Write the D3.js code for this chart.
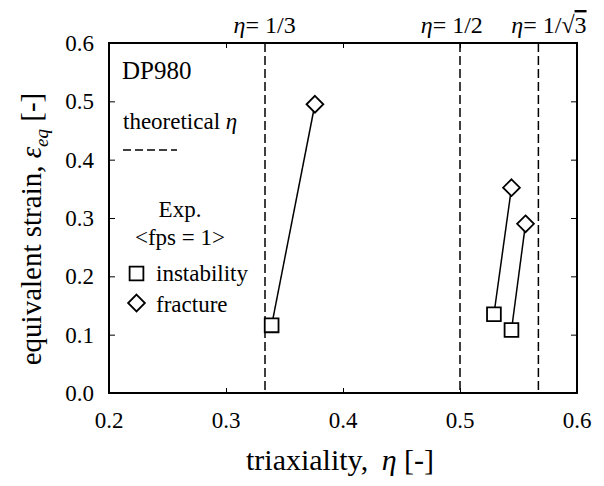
<!DOCTYPE html>
<html lang="en">
  <head>
    <meta charset="utf-8" />
    <script src="https://cdn.jsdelivr.net/npm/d3@7/dist/d3.min.js"></script>
    <style>
      body { margin: 0; background: #fff; }
    </style>
  </head>
  <body>
    <div id="container"></div>
    <script>
      // data
      const xTicks = [0.2, 0.3, 0.4, 0.5, 0.6];
      const yTicks = [0.0, 0.1, 0.2, 0.3, 0.4, 0.5, 0.6];
      const etaLines = [1 / 3, 0.5, 0.567];
      const etaLabelAt = [0.333, 0.493, 0.576];
      const etaLabels = ["1/3", "1/2", "1/\u221A3"];
      const instability = [[0.339, 0.116], [0.529, 0.135], [0.544, 0.108]];
      const fracture = [[0.376, 0.495], [0.544, 0.352], [0.556, 0.290]];

      const width = 604, height = 486;
      const m = { left: 109, right: 577, top: 43, bottom: 393 };

      const svg = d3.select("#container").append("svg")
        .attr("width", width).attr("height", height)
        .attr("font-family", "'Liberation Serif', 'Times New Roman', Times, serif");

      const x = d3.scaleLinear().domain([0.2, 0.6]).range([m.left, m.right]);
      const y = d3.scaleLinear().domain([0, 0.6]).range([m.bottom, m.top]);

      // ticks (inward, all four sides)
      svg.append("g").attr("transform", `translate(0,${m.bottom})`)
        .call(d3.axisBottom(x).tickValues(xTicks.slice(1, -1)).tickSize(-5).tickFormat(""))
        .call(g => g.select(".domain").remove());
      svg.append("g").attr("transform", `translate(0,${m.top})`)
        .call(d3.axisTop(x).tickValues(xTicks.slice(1, -1)).tickSize(-5).tickFormat(""))
        .call(g => g.select(".domain").remove());
      svg.append("g").attr("transform", `translate(${m.left},0)`)
        .call(d3.axisLeft(y).tickValues(yTicks.slice(1, -1)).tickSize(-6).tickFormat(""))
        .call(g => g.select(".domain").remove());
      svg.append("g").attr("transform", `translate(${m.right},0)`)
        .call(d3.axisRight(y).tickValues(yTicks.slice(1, -1)).tickSize(-6).tickFormat(""))
        .call(g => g.select(".domain").remove());
      svg.selectAll(".tick line").attr("stroke", "#000").attr("stroke-width", 1);

      // tick labels
      svg.append("g").selectAll("text").data(xTicks).join("text")
        .attr("x", d => x(d)).attr("y", m.bottom + 35)
        .attr("text-anchor", "middle").attr("font-size", 23)
        .text(d => d.toFixed(1));
      svg.append("g").selectAll("text").data(yTicks).join("text")
        .attr("x", m.left - 15).attr("y", d => y(d) + 8)
        .attr("text-anchor", "end").attr("font-size", 23)
        .text(d => d.toFixed(1));

      // theoretical eta lines
      svg.append("g").selectAll("line").data(etaLines).join("line")
        .attr("x1", d => x(d)).attr("x2", d => x(d))
        .attr("y1", m.top).attr("y2", m.bottom)
        .attr("stroke", "#000").attr("stroke-width", 1.5).attr("stroke-dasharray", "9,4");

      const topLab = svg.append("g").selectAll("text").data(etaLabelAt).join("text")
        .attr("x", d => x(d)).attr("y", 33)
        .attr("text-anchor", "middle").attr("font-size", 24);
      topLab.append("tspan").attr("font-style", "italic").text("\u03B7");
      topLab.append("tspan").text((d, i) => "= " + etaLabels[i].slice(0, -1));
      topLab.append("tspan")
        .attr("text-decoration", (d, i) => etaLabels[i].includes("\u221A") ? "overline" : null)
        .text((d, i) => etaLabels[i].slice(-1));

      // frame
      svg.append("rect").attr("x", m.left).attr("y", m.top)
        .attr("width", m.right - m.left).attr("height", m.bottom - m.top)
        .attr("fill", "none").attr("stroke", "#000").attr("stroke-width", 2);

      // connecting lines
      svg.append("g").selectAll("line").data(instability).join("line")
        .attr("x1", d => x(d[0])).attr("y1", d => y(d[1]))
        .attr("x2", (d, i) => x(fracture[i][0])).attr("y2", (d, i) => y(fracture[i][1]))
        .attr("stroke", "#000").attr("stroke-width", 1.5);

      const sq = d3.symbol().type(d3.symbolSquare).size(190);
      const dia = d3.symbol().type(d3.symbolDiamond2).size(180);

      svg.append("g").selectAll("path").data(instability).join("path")
        .attr("transform", d => `translate(${x(d[0])},${y(d[1])})`)
        .attr("d", sq).attr("fill", "#fff").attr("stroke", "#000").attr("stroke-width", 1.8);
      svg.append("g").selectAll("path").data(fracture).join("path")
        .attr("transform", d => `translate(${x(d[0])},${y(d[1])})`)
        .attr("d", dia).attr("fill", "#fff").attr("stroke", "#000").attr("stroke-width", 1.8);

      // legend
      const lg = svg.append("g").attr("font-size", 23);
      lg.append("text").attr("x", 122).attr("y", 79).attr("font-size", 25).text("DP980");
      const th = lg.append("text").attr("x", 123).attr("y", 129);
      th.append("tspan").text("theoretical ");
      th.append("tspan").attr("font-style", "italic").text("\u03B7");
      lg.append("line").attr("x1", 123).attr("x2", 177).attr("y1", 150).attr("y2", 150)
        .attr("stroke", "#000").attr("stroke-width", 1.5).attr("stroke-dasharray", "8,4");
      lg.append("text").attr("x", 180).attr("y", 217).attr("text-anchor", "middle").text("Exp.");
      lg.append("text").attr("x", 180).attr("y", 245).attr("text-anchor", "middle").text("<fps = 1>");
      lg.append("path").attr("transform", "translate(136.5,273.5)").attr("d", sq)
        .attr("fill", "#fff").attr("stroke", "#000").attr("stroke-width", 1.8);
      lg.append("text").attr("x", 156).attr("y", 281).text("instability");
      lg.append("path").attr("transform", "translate(136.5,303)").attr("d", dia)
        .attr("fill", "#fff").attr("stroke", "#000").attr("stroke-width", 1.8);
      lg.append("text").attr("x", 156).attr("y", 312).text("fracture");

      // axis titles
      const xt = svg.append("text").attr("x", 340).attr("y", 470)
        .attr("text-anchor", "middle").attr("font-size", 30);
      xt.append("tspan").text("triaxiality, ");
      xt.append("tspan").attr("dx", 6).attr("font-style", "italic").text("\u03B7");
      xt.append("tspan").text(" [-]");

      const yt = svg.append("text").attr("transform", `translate(41,229) rotate(-90)`)
        .attr("text-anchor", "middle").attr("font-size", 29);
      yt.append("tspan").text("equivalent strain, ");
      yt.append("tspan").attr("font-style", "italic").text("\u03B5");
      yt.append("tspan").attr("font-style", "italic").attr("font-size", 19).attr("dy", 7).text("eq");
      yt.append("tspan").attr("dy", -7).text(" [-]");
    </script>
  </body>
</html>
